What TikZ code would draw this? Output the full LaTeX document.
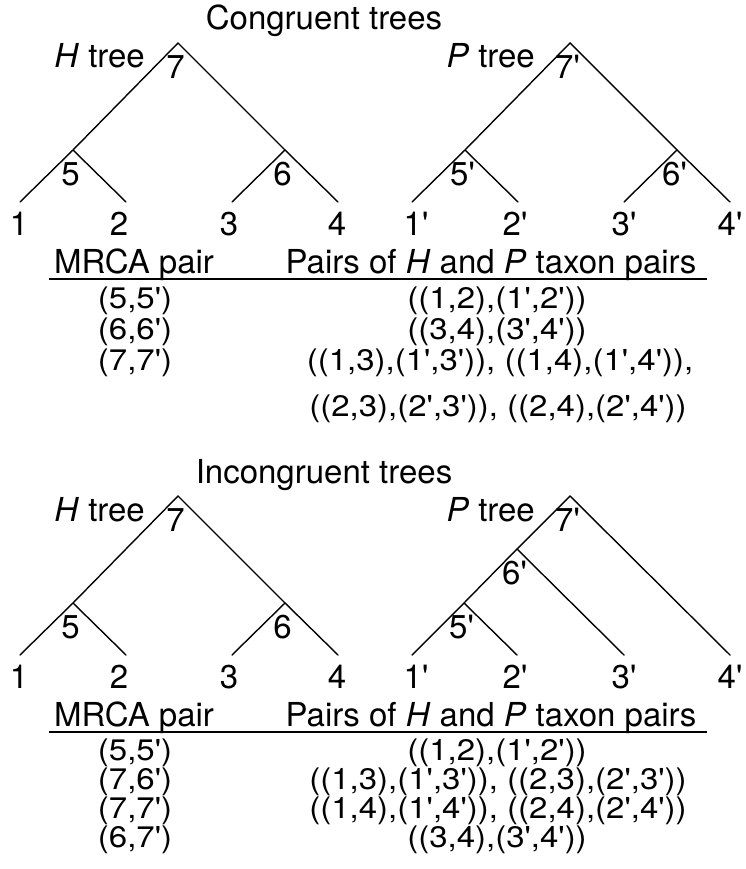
\documentclass[tikz,border=0pt]{standalone}
\usepackage{fontspec}
\usepackage{graphicx}
\newfontfamily\plainfont{TeX Gyre Heros}
\newcommand{\rowsq}[1]{\scalebox{1}[0.9]{#1}}
\begin{document}
\begin{tikzpicture}[x=1pt,y=-1pt,
  every node/.style={font=\plainfont\fontsize{33}{38}\selectfont, inner sep=0pt},
  branch/.style={line width=1.4pt, line cap=round},
  rulestyle/.style={line width=1.8pt},
  intlabel/.style={anchor=north},
  leaflabel/.style={anchor=base},
  title/.style={anchor=base},
  rowtext/.style={anchor=base}]
\useasboundingbox (0,0) rectangle (745,869);

% ================= Congruent =================
\node[title] (t1) at (324,30) {Congruent trees};
\node[anchor=base east] (hl1) at (145,68) {\textit{H} tree};
\node[anchor=base east] (pl1) at (535,68) {\textit{P} tree};

% H tree (top)
\coordinate (a7) at (178,43);
\coordinate (a5) at (73,150);
\coordinate (a6) at (285,150);
\coordinate (a1) at (20,202);
\coordinate (a2) at (126,202);
\coordinate (a3) at (232,202);
\coordinate (a4) at (338,202);
\draw[branch] (a1) -- (a5) -- (a7) -- (a6) -- (a4);
\draw[branch] (a5) -- (a2);
\draw[branch] (a6) -- (a3);
\node[intlabel] (a7l) at ([xshift=-2.5pt,yshift=-12pt]a7) {7};
\node[intlabel] (a5l) at ([xshift=-2.5pt,yshift=-12pt]a5) {5};
\node[intlabel] (a6l) at ([xshift=-2.5pt,yshift=-12pt]a6) {6};
\node[leaflabel] (a1l) at (19,235) {1};
\node[leaflabel] (a2l) at (119,235) {2};
\node[leaflabel] (a3l) at (229,235) {3};
\node[leaflabel] (a4l) at (337,235) {4};

% P tree (top)
\coordinate (b7) at (570,43);
\coordinate (b5) at (465,150);
\coordinate (b6) at (677,150);
\coordinate (b1) at (412,202);
\coordinate (b2) at (518,202);
\coordinate (b3) at (624,202);
\coordinate (b4) at (730,202);
\draw[branch] (b1) -- (b5) -- (b7) -- (b6) -- (b4);
\draw[branch] (b5) -- (b2);
\draw[branch] (b6) -- (b3);
\node[intlabel] (b7l) at ([xshift=-2.5pt,yshift=-12pt]b7) {7'};
\node[intlabel] (b5l) at ([xshift=-2.5pt,yshift=-12pt]b5) {5'};
\node[intlabel] (b6l) at ([xshift=-2.5pt,yshift=-12pt]b6) {6'};
\node[leaflabel] (b1l) at (416,235) {1'};
\node[leaflabel] (b2l) at (515,235) {2'};
\node[leaflabel] (b3l) at (624,235) {3'};
\node[leaflabel] (b4l) at (730,235) {4'};

% Table (top)
\node[rowtext] (h1a) at (134,273) {MRCA pair};
\node[rowtext] (h1b) at (491,273) {Pairs of \textit{H} and \textit{P} taxon pairs};
\coordinate (u1s) at (49,279);
\coordinate (u1e) at (707,279);
\draw[rulestyle] (u1s) -- (u1e);
\node[rowtext] (r11) at (135,308) {\rowsq{(5,5')}};
\node[rowtext] (r12) at (135,339) {\rowsq{(6,6')}};
\node[rowtext] (r13) at (135,370) {\rowsq{(7,7')}};
\node[rowtext] (s11) at (497,308) {\rowsq{((1,2),(1',2'))}};
\node[rowtext] (s12) at (497,339) {\rowsq{((3,4),(3',4'))}};
\node[rowtext] (s13) at (500,370) {\rowsq{((1,3),(1',3')), ((1,4),(1',4')),}};
\node[rowtext] (s14) at (498,416) {\rowsq{((2,3),(2',3')), ((2,4),(2',4'))}};

% ================= Incongruent =================
\node[title] (t2) at (324,483) {Incongruent trees};
\node[anchor=base east] (hl2) at (145,521) {\textit{H} tree};
\node[anchor=base east] (pl2) at (535,521) {\textit{P} tree};

% H tree (bottom)
\coordinate (c7) at (178,496);
\coordinate (c5) at (73,603);
\coordinate (c6) at (285,603);
\coordinate (c1) at (20,655);
\coordinate (c2) at (126,655);
\coordinate (c3) at (232,655);
\coordinate (c4) at (338,655);
\draw[branch] (c1) -- (c5) -- (c7) -- (c6) -- (c4);
\draw[branch] (c5) -- (c2);
\draw[branch] (c6) -- (c3);
\node[intlabel] (c7l) at ([xshift=-2.5pt,yshift=-12pt]c7) {7};
\node[intlabel] (c5l) at ([xshift=-2.5pt,yshift=-12pt]c5) {5};
\node[intlabel] (c6l) at ([xshift=-2.5pt,yshift=-12pt]c6) {6};
\node[leaflabel] (c1l) at (19,688) {1};
\node[leaflabel] (c2l) at (119,688) {2};
\node[leaflabel] (c3l) at (229,688) {3};
\node[leaflabel] (c4l) at (337,688) {4};

% P tree (bottom, incongruent)
\coordinate (d7) at (570,496);
\coordinate (d6) at (517,549);
\coordinate (d5) at (464,603);
\coordinate (d1) at (412,655);
\coordinate (d2) at (517,655);
\coordinate (d3) at (624,655);
\coordinate (d4) at (730,655);
\draw[branch] (d1) -- (d5) -- (d6) -- (d7) -- (d4);
\draw[branch] (d5) -- (d2);
\draw[branch] (d6) -- (d3);
\node[intlabel] (d7l) at ([xshift=-2.5pt,yshift=-12pt]d7) {7'};
\node[intlabel] (d6l) at ([xshift=-2.5pt,yshift=-12pt]d6) {6'};
\node[intlabel] (d5l) at ([xshift=-2.5pt,yshift=-12pt]d5) {5'};
\node[leaflabel] (d1l) at (416,688) {1'};
\node[leaflabel] (d2l) at (515,688) {2'};
\node[leaflabel] (d3l) at (624,688) {3'};
\node[leaflabel] (d4l) at (730,688) {4'};

% Table (bottom)
\node[rowtext] (h2a) at (134,726) {MRCA pair};
\node[rowtext] (h2b) at (491,726) {Pairs of \textit{H} and \textit{P} taxon pairs};
\coordinate (u2s) at (49,732);
\coordinate (u2e) at (707,732);
\draw[rulestyle] (u2s) -- (u2e);
\node[rowtext] (r21) at (135,760) {\rowsq{(5,5')}};
\node[rowtext] (r22) at (135,789) {\rowsq{(7,6')}};
\node[rowtext] (r23) at (135,818) {\rowsq{(7,7')}};
\node[rowtext] (r24) at (135,847) {\rowsq{(6,7')}};
\node[rowtext] (s21) at (497,760) {\rowsq{((1,2),(1',2'))}};
\node[rowtext] (s22) at (498,789) {\rowsq{((1,3),(1',3')), ((2,3),(2',3'))}};
\node[rowtext] (s23) at (498,818) {\rowsq{((1,4),(1',4')), ((2,4),(2',4'))}};
\node[rowtext] (s24) at (497,847) {\rowsq{((3,4),(3',4'))}};
\end{tikzpicture}
\end{document}
